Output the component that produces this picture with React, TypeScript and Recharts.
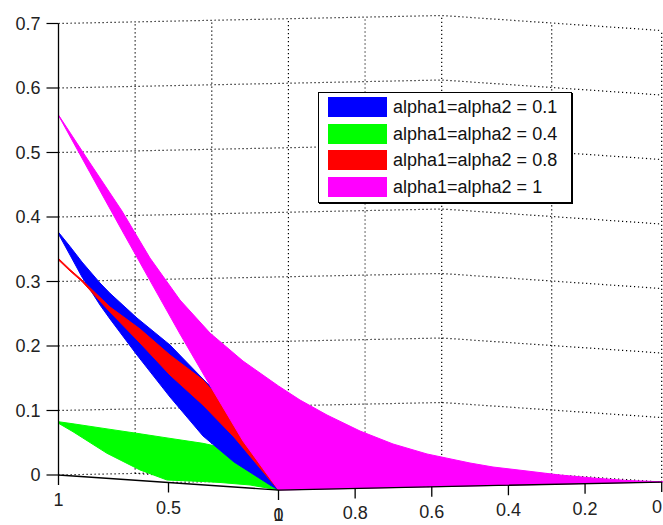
import React from 'react';
import { ComposedChart, Area, Line, Scatter, XAxis, YAxis, Legend } from 'recharts';

const FONT = '"Liberation Sans", Arial, Helvetica, sans-serif';
const FONT_SIZE = 18;
const CHART_W = 663;
const CHART_H = 525;

// ---- series (projected view coordinates) ----
// h: horizontal position along the floor (left floor axis spans 0..1), v: height in z units
const pinkH = [0, 0.1432, 0.2886, 0.4159, 0.5523, 0.6886, 0.8386, 1.0, 1.0977, 1.2205, 1.3705, 1.5205, 1.675, 1.8705, 1.975, 2.1295, 2.2795, 2.4295, 2.5841, 2.7341, 2.7477];
const pinkLow = [0.5574, 0.4687, 0.3791, 0.3014, 0.2186, 0.1388, 0.0527, -0.0233, -0.0226, -0.0217, -0.0206, -0.0195, -0.0184, -0.0171, -0.0163, -0.0152, -0.0141, -0.013, -0.0119, -0.0109, -0.0107];
const pinkHigh = [0.5581, 0.4837, 0.4093, 0.3364, 0.2713, 0.2202, 0.1767, 0.138, 0.1163, 0.093, 0.0682, 0.0481, 0.0326, 0.0186, 0.0124, 0.0062, 0, -0.0047, -0.0085, -0.0104, -0.0106];

const blueH = [0, 0.0523, 0.1068, 0.1886, 0.2341, 0.3568, 0.5068, 0.6568, 0.7977, 0.9614, 1.0];
const blueLow = [0.3736, 0.3411, 0.307, 0.2636, 0.2419, 0.186, 0.1209, 0.0605, 0.0202, -0.0155, -0.0233];
const blueHigh = [0.3763, 0.3543, 0.3302, 0.2977, 0.2817, 0.2434, 0.2016, 0.1488, 0.1008, 0.0078, -0.0233];

const redH = [0, 0.0523, 0.1068, 0.2341, 0.3705, 0.5068, 0.6568, 0.7977, 0.9614, 1.0];
const redLow = [0.3333, 0.3163, 0.3, 0.2527, 0.2047, 0.155, 0.1085, 0.0589, -0.0078, -0.0233];
const redHigh = [0.3357, 0.3186, 0.3023, 0.2605, 0.2264, 0.186, 0.1473, 0.093, 0.0078, -0.0233];

const greenH = [0, 0.0659, 0.2205, 0.3705, 0.4932, 0.6568, 0.7341, 0.8705, 0.9614, 1.0];
const greenLow = [0.0802, 0.0671, 0.0336, 0.0078, -0.0078, -0.0101, -0.0116, -0.0155, -0.0209, -0.0233];
const greenHigh = [0.0826, 0.0794, 0.0715, 0.0639, 0.0575, 0.0491, 0.0434, 0.0357, 0.0078, -0.0233];

const seriesNames = ['alpha1=alpha2 = 0.1', 'alpha1=alpha2 = 0.4', 'alpha1=alpha2 = 0.8', 'alpha1=alpha2 = 1'];
const seriesColors = ['#0000ff', '#00ff00', '#ff0000', '#ff00ff'];

// ---- axes / ticks ----
const zTicks = [0, 0.1, 0.2, 0.3, 0.4, 0.5, 0.6, 0.7];
const aTicks = [1, 0.5, 0];
const aTickLabels = ['1', '0.5', '0'];
const bTicks = [1, 0.8, 0.6, 0.4, 0.2, 0];
const bTickLabels = ['1', '0.8', '0.6', '0.4', '0.2', '0'];
const wallGridB = [0.8, 0.6, 0.4, 0.2, 0];
const sideGridA = [0.5, 0];
const floorGridA = [0.5];
const floorGridB = [0.8, 0.6, 0.4, 0.2];
const zTop = 0.7;

// ---- view projection of the 3-D box ----
const B_SPAN = 1.7418;
const A_DROP = 0.0233;
const B_DROP = 0.0124;
const TICK_LEN = 0.0155;
const LABEL_OFF = 0.0388;

type P = { h: number; v: number | null };
const proj = (a: number, b: number, z: number): P => ({
  h: (1 - a) + (1 - b) * B_SPAN,
  v: z - (1 - a) * A_DROP + (1 - b) * B_DROP,
});
const joinLines = (lines: P[][]): P[] =>
  lines.flatMap((pts) => [...pts, { h: pts[pts.length - 1].h, v: null }]);

const gridData = joinLines([
  ...zTicks.map((z) => [proj(1, 1, z), proj(1, 0, z), proj(0, 0, z)]),
  ...wallGridB.map((b) => [proj(1, b, 0), proj(1, b, zTop)]),
  ...sideGridA.map((a) => [proj(a, 0, 0), proj(a, 0, zTop)]),
  ...floorGridA.map((a) => [proj(a, 1, 0), proj(a, 0, 0)]),
  ...floorGridB.map((b) => [proj(1, b, 0), proj(0, b, 0)]),
]);

const axisData = joinLines([
  [proj(1, 1, 0), proj(1, 1, zTop)],
  [proj(1, 1, 0), proj(0, 1, 0)],
  [proj(0, 1, 0), proj(0, 0, 0)],
]);

const tickBases = [...aTicks.map((a) => proj(a, 1, 0)), ...bTicks.map((b) => proj(0, b, 0))];
const tickData = joinLines(tickBases.map((p) => [p, { h: p.h, v: (p.v as number) - TICK_LEN }]));
const labelData = [...aTickLabels, ...bTickLabels].map((text, i) => ({
  h: tickBases[i].h,
  v: (tickBases[i].v as number) - LABEL_OFF,
  text,
}));

const toRange = (hs: number[], lo: number[], hi: number[]) =>
  hs.map((h, i) => ({ h, range: [lo[i], hi[i]] }));

const blueData = toRange(blueH, blueLow, blueHigh);
const greenData = toRange(greenH, greenLow, greenHigh);
const redData = toRange(redH, redLow, redHigh);
const pinkData = toRange(pinkH, pinkLow, pinkHigh);

const LabelShape = (props: any) => {
  const { cx, cy, payload } = props;
  // keep the label inside the picture's right edge
  const half = payload.text.length * 0.28 * FONT_SIZE;
  const x = Math.min(cx, CHART_W - half - 1);
  return (
    <text x={x} y={cy} textAnchor="middle" dominantBaseline="central" fontSize={FONT_SIZE} fontFamily={FONT} fill="#222">
      {payload.text}
    </text>
  );
};

const renderLegend = () => (
  <div
    style={{
      width: 254,
      height: 111,
      boxSizing: 'border-box',
      border: '1px solid #000',
      boxShadow: '1px 1px 0 #000',
      background: '#fff',
      padding: '1px 0 0 9px',
    }}
  >
    {seriesNames.map((n, i) => (
      <div key={n} style={{ display: 'flex', alignItems: 'center', height: 26.6 }}>
        <div style={{ width: 59, height: 20, background: seriesColors[i] }} />
        <span style={{ marginLeft: 6, fontSize: FONT_SIZE, fontFamily: FONT, color: '#111', lineHeight: '20px', whiteSpace: 'nowrap' }}>
          {n}
        </span>
      </div>
    ))}
  </div>
);

export default function App() {
  return (
    <div style={{ position: 'absolute', left: 0, top: 0, width: CHART_W, height: CHART_H, background: '#fff' }}>
      <ComposedChart width={CHART_W} height={CHART_H} margin={{ top: 0, right: 0, bottom: 0, left: 0 }}>
        <XAxis type="number" dataKey="h" domain={[0, 2.7477]} hide />
        <YAxis
          type="number"
          domain={[-0.07752, 0.73643]}
          ticks={zTicks}
          interval={0}
          width={58.5}
          tickSize={12}
          tickMargin={6}
          axisLine={false}
          tickLine={{ stroke: '#000', strokeWidth: 1.2 }}
          tick={{ fontSize: FONT_SIZE, fontFamily: FONT, fill: '#222' }}
        />
        <Line
          data={gridData}
          dataKey="v"
          stroke="#000"
          strokeWidth={1.2}
          strokeDasharray="1.2 2.8"
          dot={false}
          activeDot={false}
          connectNulls={false}
          isAnimationActive={false}
          legendType="none"
          {...({ zIndex: 50 } as any)}
        />
        <Area data={greenData} dataKey="range" type="linear" fill={seriesColors[1]} stroke={seriesColors[1]} strokeWidth={1} fillOpacity={1} isAnimationActive={false} activeDot={false} name={seriesNames[1]} {...({ zIndex: 101 } as any)} />
        <Area data={blueData} dataKey="range" type="linear" fill={seriesColors[0]} stroke={seriesColors[0]} strokeWidth={1} fillOpacity={1} isAnimationActive={false} activeDot={false} name={seriesNames[0]} {...({ zIndex: 102 } as any)} />
        <Area data={redData} dataKey="range" type="linear" fill={seriesColors[2]} stroke={seriesColors[2]} strokeWidth={1} fillOpacity={1} isAnimationActive={false} activeDot={false} name={seriesNames[2]} {...({ zIndex: 103 } as any)} />
        <Area data={pinkData} dataKey="range" type="linear" fill={seriesColors[3]} stroke={seriesColors[3]} strokeWidth={1} fillOpacity={1} isAnimationActive={false} activeDot={false} name={seriesNames[3]} {...({ zIndex: 104 } as any)} />
        <Line data={axisData} dataKey="v" stroke="#000" strokeWidth={1.3} dot={false} activeDot={false} connectNulls={false} isAnimationActive={false} legendType="none" {...({ zIndex: 400 } as any)} />
        <Line data={tickData} dataKey="v" stroke="#000" strokeWidth={1.3} dot={false} activeDot={false} connectNulls={false} isAnimationActive={false} legendType="none" {...({ zIndex: 400 } as any)} />
        <Scatter data={labelData} dataKey="v" shape={LabelShape} isAnimationActive={false} legendType="none" {...({ zIndex: 600 } as any)} />
        <Legend
          layout="vertical"
          align="center"
          verticalAlign="middle"
          content={renderLegend}
          wrapperStyle={{ position: 'absolute', left: 318, top: 92, width: 254, height: 111 }}
        />
      </ComposedChart>
    </div>
  );
}
